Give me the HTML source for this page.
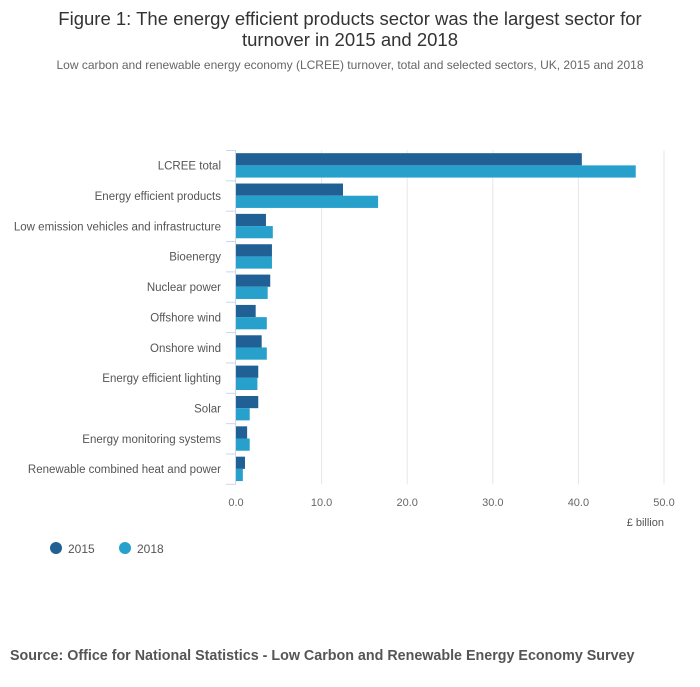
<!DOCTYPE html>
<html><head><meta charset="utf-8"><style>
body{margin:0;width:700px;height:682px;background:#fff;font-family:"Liberation Sans",sans-serif;overflow:hidden}
svg text{font-family:"Liberation Sans",sans-serif}
</style></head><body>
<svg id="chart" width="700" height="682">
<text x="350" y="25" text-anchor="middle" font-size="18.5" fill="#333">Figure 1: The energy efficient products sector was the largest sector for</text>
<text x="350" y="46" text-anchor="middle" font-size="18.5" fill="#333">turnover in 2015 and 2018</text>
<text x="350" y="69" text-anchor="middle" font-size="12" fill="#666">Low carbon and renewable energy economy (LCREE) turnover, total and selected sectors, UK, 2015 and 2018</text>
<g id="grid"></g><g id="bars"></g><g id="axes"></g>
<text x="664" y="526" text-anchor="end" font-size="11" fill="#555">£ billion</text>
<g><circle cx="56" cy="548" r="6" fill="#206095"/><text x="68" y="553" font-size="12" fill="#555">2015</text></g>
<g><circle cx="125" cy="548" r="6" fill="#27a0cc"/><text x="137" y="553" font-size="12" fill="#555">2018</text></g>
<text x="10" y="660" font-size="14.3" font-weight="bold" fill="#555">Source: Office for National Statistics - Low Carbon and Renewable Energy Economy Survey</text>
</svg>
<script>
const categories=["LCREE total","Energy efficient products","Low emission vehicles and infrastructure","Bioenergy","Nuclear power","Offshore wind","Onshore wind","Energy efficient lighting","Solar","Energy monitoring systems","Renewable combined heat and power"];
const values2015=[40.4,12.5,3.5,4.2,4.0,2.3,3.0,2.6,2.6,1.3,1.05];
const values2018=[46.7,16.6,4.3,4.2,3.7,3.6,3.6,2.5,1.6,1.6,0.8];
const xTicks=[0,10,20,30,40,50];
const tickLabels=["0.0","10.0","20.0","30.0","40.0","50.0"];
const NS="http://www.w3.org/2000/svg";
const x0=236,x1=664,topY=150.5,band=30.35;
const xs=v=>x0+(v/50)*(x1-x0);
const yc=i=>topY+band*(i+0.5);
function mk(tag,attrs,parent){const e=document.createElementNS(NS,tag);for(const k in attrs)e.setAttribute(k,attrs[k]);document.getElementById(parent).appendChild(e);return e;}
xTicks.forEach((t,i)=>{
  if(t>0){const g=mk('line',{x1:xs(t),x2:xs(t),y1:topY,y2:topY+band*categories.length,stroke:'#e6e6e6'},'grid');
  
  }
  const l=mk('text',{x:xs(t),y:506,'text-anchor':'middle','font-size':11,fill:'#666'},'axes');l.textContent=tickLabels[i];
  
  
});
categories.forEach((c,i)=>{
  const y=yc(i);
  const a=mk('rect',{x:x0,y:y-12.5,width:xs(values2015[i])-x0,height:12.2,fill:'#206095'},'bars');
  
  
  const b=mk('rect',{x:x0,y:y-0.3,width:xs(values2018[i])-x0,height:12.2,fill:'#27a0cc'},'bars');
  
  
  const t=mk('text',{x:221,y:y+4,'text-anchor':'end','font-size':11.5,fill:'#555'},'axes');t.textContent=c;
  
  
});
for(let i=0;i<=categories.length;i++){
  const y=topY+band*i;
  const tk=mk('line',{x1:226,x2:236,y1:y,y2:y,stroke:'#ccd6eb'},'axes');
  
  
}
const ax=mk('line',{x1:235.5,x2:235.5,y1:topY,y2:topY+band*categories.length,stroke:'#ccd6eb'},'axes');


</script>
</body></html>
